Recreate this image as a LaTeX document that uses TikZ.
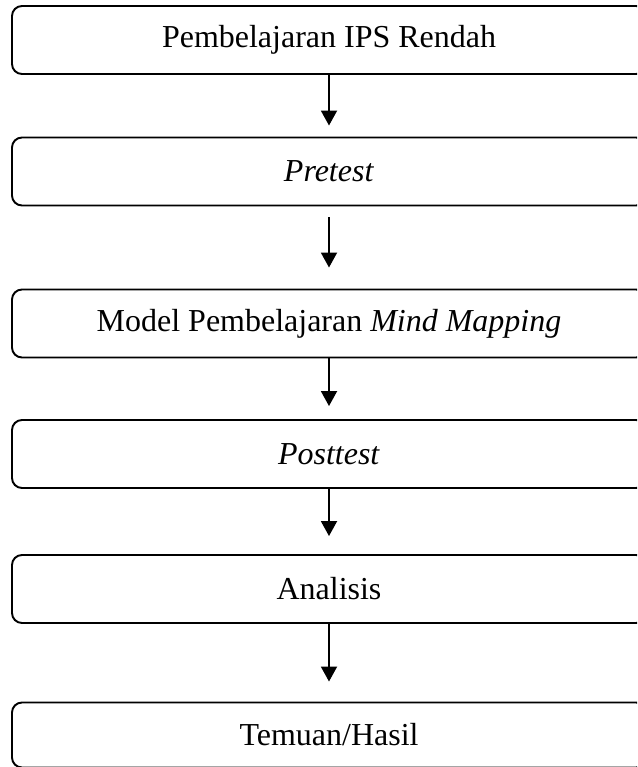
\documentclass[tikz,border=0pt]{standalone}
\usepackage{fontspec}
\setmainfont{Liberation Serif}
\usetikzlibrary{arrows.meta}
\usetikzlibrary{positioning}

\tikzset{
  langkah/.style={draw=black,line width=1.1pt,rounded corners=0.2cm,minimum width=12.68cm,minimum height=1.36cm,inner sep=0pt,font=\fontsize{18.2}{22}\selectfont},
  panah/.style={draw=black,line width=1.1pt,-{Triangle[width=0.32cm,length=0.3cm]}}
}

\begin{document}
\begin{tikzpicture}
\useasboundingbox (0,0) rectangle (12.74,-15.34);
\clip (0,0) rectangle (12.74,-15.34);

\node[langkah] (rendah) at (6.58,-0.80) {Pembelajaran IPS Rendah};
\node[langkah] (pre) at (6.58,-3.43) {\textit{Pretest}};
\node[langkah] (model) at (6.58,-6.47) {Model Pembelajaran \textit{Mind Mapping}};
\node[langkah] (post) at (6.58,-9.08) {\textit{Posttest}};
\node[langkah] (analisis) at (6.58,-11.78) {Analisis};
\node[langkah,minimum height=1.30cm] (hasil) at (6.58,-14.70) {Temuan/Hasil};

\draw[panah,shorten >=0.22cm] (rendah) -- (pre);
\draw[panah,shorten <=0.22cm,shorten >=0.42cm] (pre) -- (model);
\draw[panah,shorten >=0.26cm] (model) -- (post);
\draw[panah,shorten >=0.36cm] (post) -- (analisis);
\draw[panah,shorten >=0.40cm] (analisis) -- (hasil);

\end{tikzpicture}
\end{document}
